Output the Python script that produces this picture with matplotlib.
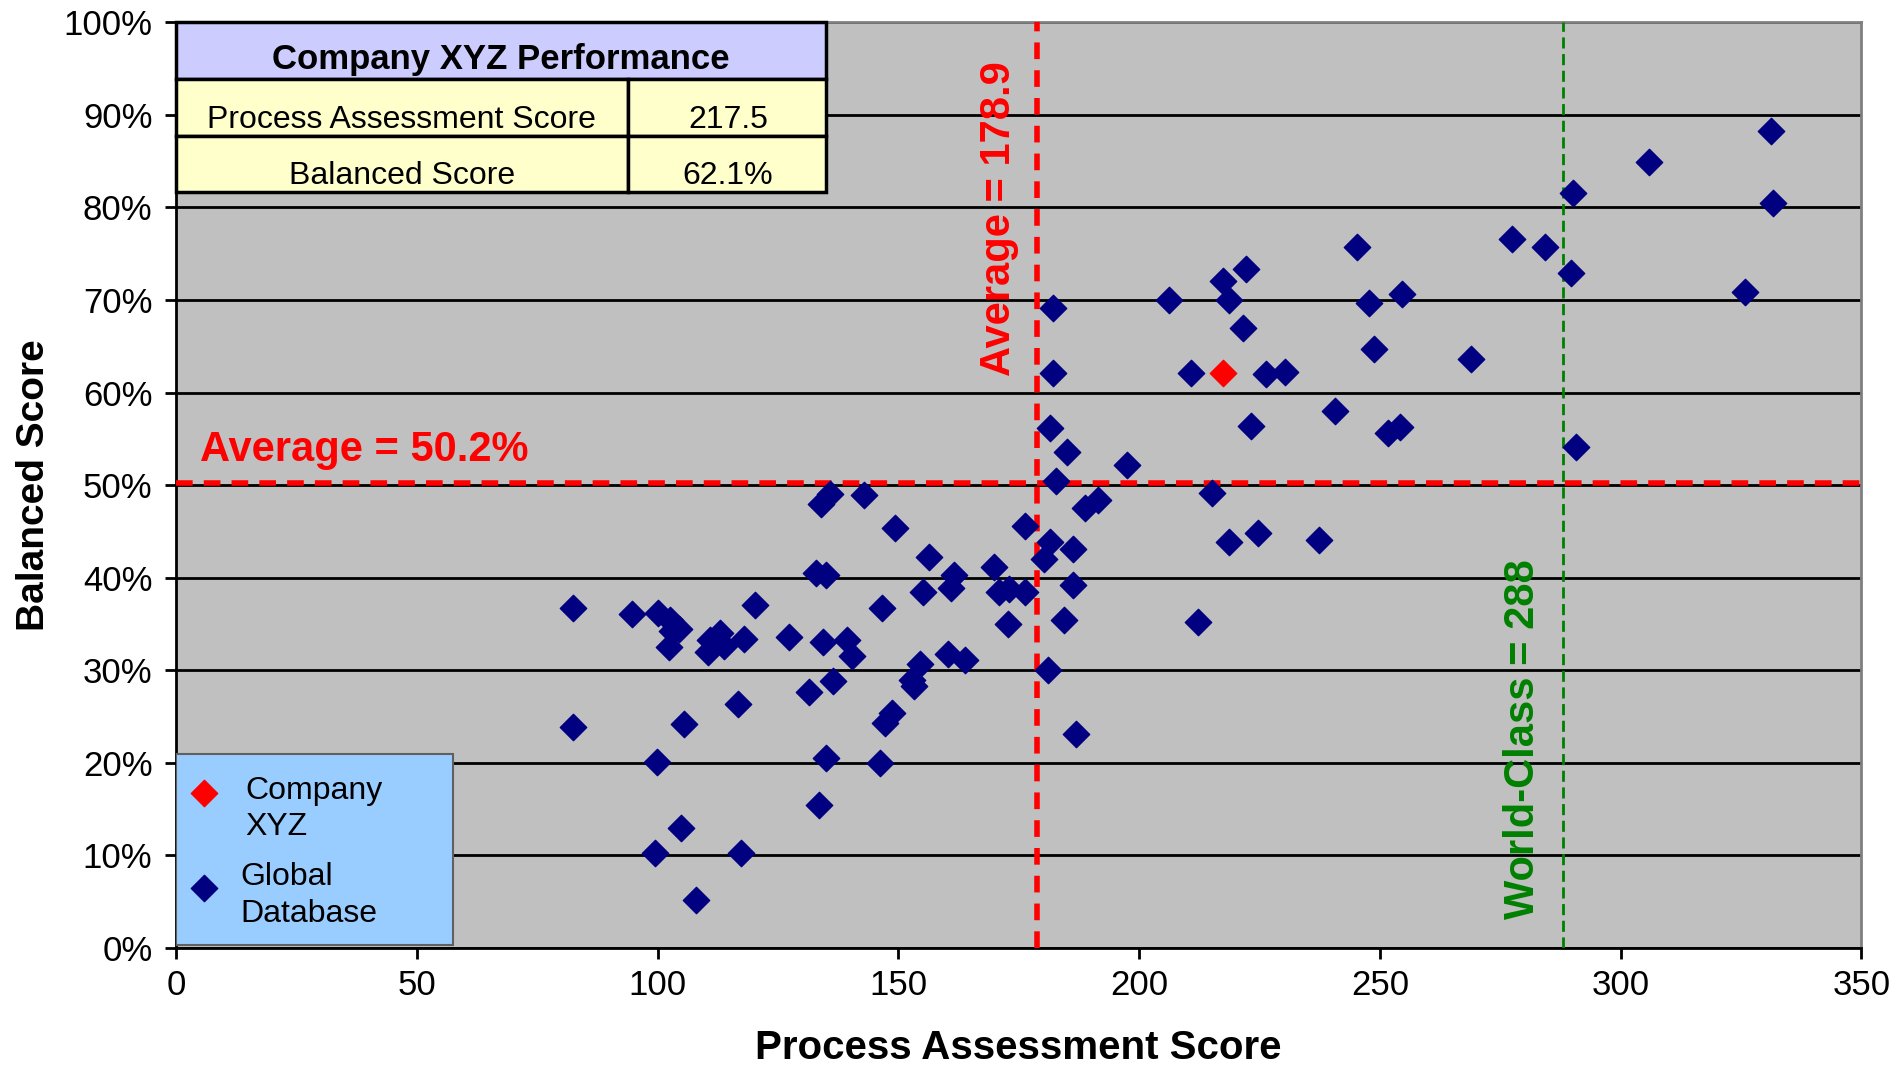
import matplotlib
import matplotlib.pyplot as plt
from matplotlib.patches import Rectangle
from matplotlib.ticker import FuncFormatter

matplotlib.use("Agg")
plt.rcParams["font.family"] = ["Liberation Sans", "DejaVu Sans"]

# Global database: process assessment score vs balanced score (%)
db_score = [
    82.4, 82.4, 94.7, 100.0, 102.6, 104.4, 103.0, 102.4, 99.8, 105.4,
    104.9, 99.5, 107.9, 110.9, 113.0, 110.5, 113.7, 116.7, 117.4, 117.9,
    120.2, 127.2, 131.5, 133.5, 135.0, 136.4, 134.3, 139.3, 140.3, 146.6,
    149.3, 146.1, 147.3, 148.6, 152.9, 153.3, 154.5, 155.1, 156.4, 160.4,
    160.9, 161.6, 163.9, 169.8, 171.0, 173.0, 172.8, 176.3, 176.3, 132.9,
    135.0, 134.0, 135.8, 142.8,
    180.3, 181.5, 186.2, 186.2, 184.5, 181.0, 186.9, 182.8, 185.0, 181.5,
    188.7, 191.5, 197.5, 182.2, 182.2, 206.3, 210.7, 212.2, 215.1, 217.5,
    218.7, 221.5, 222.2, 218.6, 224.6, 223.3, 226.3, 230.4,
    331.2, 305.8, 290.2, 331.6, 277.4, 284.3, 289.6, 325.8, 245.2, 254.7,
    247.7, 248.8, 269.0, 240.7, 251.7, 254.2, 290.8, 237.4,
]
db_balanced = [
    36.7, 23.9, 36.1, 36.2, 35.4, 34.5, 34.2, 32.5, 20.1, 24.2,
    12.9, 10.3, 5.2, 33.3, 34.0, 32.0, 32.6, 26.4, 10.3, 33.4,
    37.0, 33.6, 27.6, 15.4, 20.5, 28.8, 33.1, 33.3, 31.5, 36.7,
    45.4, 20.0, 24.3, 25.4, 28.9, 28.3, 30.7, 38.4, 42.2, 31.7,
    38.9, 40.3, 31.1, 41.1, 38.4, 38.8, 35.0, 38.4, 45.6, 40.5,
    40.3, 48.0, 49.0, 48.9,
    42.0, 43.9, 43.1, 39.2, 35.4, 30.0, 23.1, 50.4, 53.6, 56.2,
    47.5, 48.4, 52.2, 62.1, 69.1, 70.0, 62.1, 35.2, 49.2, 72.1,
    70.0, 67.0, 73.4, 43.9, 44.8, 56.4, 62.0, 62.2,
    88.3, 84.9, 81.6, 80.5, 76.6, 75.7, 72.9, 70.9, 75.7, 70.7,
    69.7, 64.7, 63.6, 58.0, 55.6, 56.3, 54.1, 44.1,
]

company_score = 217.5
company_balanced = 62.1
avg_score = 178.9
avg_balanced = 50.2
world_class = 288

table_title = "Company XYZ Performance"
table_labels = ["Process Assessment Score", "Balanced Score"]
table_values = ["217.5", "62.1%"]
legend_labels = ["Company\nXYZ", "Global\nDatabase"]

NAVY = "#000080"
GREEN = "#008000"

fig = plt.figure(figsize=(18.99, 10.65), dpi=100)
ax = fig.add_axes([0.0927, 0.110, 0.8875, 0.869])
ax.set_facecolor("#C0C0C0")
ax.set_xlim(0, 350)
ax.set_ylim(0, 100)
ax.set_xticks(range(0, 351, 50))
ax.set_yticks(range(0, 101, 10))
ax.yaxis.set_major_formatter(FuncFormatter(lambda v, _: f"{v:.0f}%"))
ax.tick_params(axis="both", labelsize=25, length=8, width=2, direction="out", pad=7)
ax.tick_params(axis="y", pad=9)
ax.grid(axis="y", color="black", linewidth=2)
ax.set_axisbelow(True)
for side in ("left", "bottom"):
    ax.spines[side].set_linewidth(2)
    ax.spines[side].set_color("black")
for side in ("top", "right"):
    ax.spines[side].set_color("#808080")
    ax.spines[side].set_linewidth(2)

ax.set_xlabel("Process Assessment Score", fontsize=29, fontweight="bold", labelpad=20)
ax.set_ylabel("Balanced Score", fontsize=28, fontweight="bold", labelpad=8)

# reference lines
ax.axhline(avg_balanced, color="red", linestyle=(0, (3, 2)), linewidth=4, zorder=3)
ax.axvline(avg_score, color="red", linestyle=(0, (3, 2)), linewidth=4, zorder=3)
ax.axvline(world_class, color=GREEN, linestyle=(0, (4, 2)), linewidth=2, zorder=3)

ax.scatter(db_score, db_balanced, marker="D", s=180, color=NAVY, zorder=4)
ax.scatter([company_score], [company_balanced], marker="D", s=180, color="red", zorder=5)

ax.text(5, 51.6, f"Average = {avg_balanced}%", color="red", fontsize=30,
        fontweight="bold", ha="left", va="bottom")
ax.text(175.0, 78.8, f"Average = {avg_score}", color="red", fontsize=30,
        fontweight="bold", rotation=90, ha="right", va="center")
ax.text(283.8, 22.5, f"World-Class = {world_class}", color=GREEN, fontsize=30,
        fontweight="bold", rotation=90, ha="right", va="center")

# performance table in the upper-left corner (axes coordinates)
tx0, tsplit, tx1 = 0.0, 0.268, 0.3858
row_edges = [1.0, 0.9386, 0.877, 0.817]
ax.add_patch(Rectangle((tx0, row_edges[1]), tx1 - tx0, row_edges[0] - row_edges[1],
                       transform=ax.transAxes, facecolor="#CCCCFF", edgecolor="black",
                       linewidth=2.5, zorder=6, clip_on=False))
for i in range(2):
    top, bot = row_edges[i + 1], row_edges[i + 2]
    ax.add_patch(Rectangle((tx0, bot), tsplit - tx0, top - bot, transform=ax.transAxes,
                           facecolor="#FFFFCC", edgecolor="black", linewidth=2.5,
                           zorder=6, clip_on=False))
    ax.add_patch(Rectangle((tsplit, bot), tx1 - tsplit, top - bot, transform=ax.transAxes,
                           facecolor="#FFFFCC", edgecolor="black", linewidth=2.5,
                           zorder=6, clip_on=False))
    ymid = (top + bot) / 2 - 0.013
    ax.text((tx0 + tsplit) / 2, ymid, table_labels[i], transform=ax.transAxes,
            ha="center", va="center", fontsize=23, zorder=7)
    ax.text(0.3276, ymid, table_values[i], transform=ax.transAxes,
            ha="center", va="center", fontsize=23, zorder=7)
ax.text((tx0 + tx1) / 2, (row_edges[0] + row_edges[1]) / 2 - 0.009, table_title,
        transform=ax.transAxes, ha="center", va="center", fontsize=25,
        fontweight="bold", zorder=7)

# legend box in the lower-left corner (data coordinates)
ax.add_patch(Rectangle((0, 0.3), 57.6, 20.6, facecolor="#99CCFF", edgecolor="#606060",
                       linewidth=1.5, zorder=6))
ax.scatter([5.8], [16.7], marker="D", s=180, color="red", zorder=7)
ax.scatter([5.8], [6.5], marker="D", s=180, color=NAVY, zorder=7)
ax.text(14.3, 15.0, legend_labels[0], fontsize=23, ha="left", va="center",
        linespacing=1.3, zorder=7)
ax.text(13.3, 5.7, legend_labels[1], fontsize=23, ha="left", va="center",
        linespacing=1.3, zorder=7)

fig.savefig("out.png", dpi=100)
